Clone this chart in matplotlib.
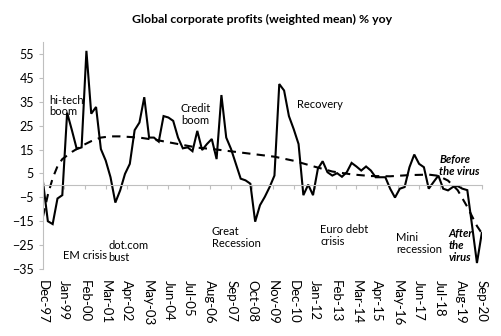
import matplotlib.pyplot as plt

plt.rcParams['font.family'] = ['Lato', 'DejaVu Sans']

# Quarterly profit growth, Dec-97 .. Sep-20 (% yoy)
profits = [
    1.4, -15.0, -16.2, -5.5, -4.1, 30.4, 23.0, 15.2, 15.9, 56.3,
    30.0, 32.8, 15.2, 10.4, 3.4, -7.2, -2.1, 4.8, 9.0, 23.1,
    26.3, 36.9, 20.0, 20.0, 18.3, 29.0, 28.4, 27.0, 20.0, 15.5,
    15.9, 14.3, 22.8, 14.8, 17.3, 19.4, 11.0, 37.8, 20.0, 15.2,
    9.0, 2.8, 2.1, 0.7, -15.2, -8.3, -4.8, -0.7, 4.1, 42.4,
    39.7, 29.0, 23.5, 17.3, -4.1, 0.3, -4.1, 6.9, 10.1, 5.5,
    4.1, 5.1, 3.6, 5.5, 9.4, 7.9, 6.2, 7.9, 6.2, 3.4,
    3.4, 3.4, -1.4, -5.1, -1.4, -0.7, 7.6, 12.9, 9.0, 7.6,
    -1.4, 1.4, 4.1, -1.4, -2.1, -0.7, -0.3, -1.4, -2.0, -17.0,
    -32.5, -20.0,
]
months = [3 * q for q in range(len(profits))]

# Long-run trend (quarter index, value)
trend_q = [0, 1, 2, 3, 4, 6, 8, 10, 12, 14, 16, 20, 24, 28, 32, 36, 40, 44,
           48, 52, 56, 60, 64, 68, 72, 76, 80, 82, 84, 86, 88, 89, 90, 91]
trend_v = [-13.0, -4.0, 3.0, 8.0, 11.0, 14.0, 16.5, 18.5, 20.0, 20.5, 20.5,
           20.0, 18.8, 17.3, 15.8, 15.0, 14.0, 13.0, 12.0, 10.3, 8.0, 5.8,
           4.6, 3.9, 3.8, 4.3, 4.5, 4.0, 2.0, -2.0, -9.0, -13.0, -17.0, -20.0]
trend_m = [3 * q for q in trend_q]

tick_labels = ['Dec-97', 'Jan-99', 'Feb-00', 'Mar-01', 'Apr-02', 'May-03',
               'Jun-04', 'Jul-05', 'Aug-06', 'Sep-07', 'Oct-08', 'Nov-09',
               'Dec-10', 'Jan-12', 'Feb-13', 'Mar-14', 'Apr-15', 'May-16',
               'Jun-17', 'Jul-18', 'Aug-19', 'Sep-20']
tick_pos = [13 * i for i in range(len(tick_labels))]

grey = '#BFBFBF'

fig = plt.figure(figsize=(5.02, 3.36), dpi=100)
ax = fig.add_axes([0.0857, 0.1994, 0.874, 0.6756])

ax.plot(months, profits, color='black', lw=1.5, solid_joinstyle='miter')
ax.plot(trend_m, trend_v, color='black', lw=1.5, dashes=(4, 3))

ax.set_xlim(0, 273)
ax.set_ylim(-35, 60)
ax.set_yticks(range(-35, 60, 10))

for side in ['top', 'right']:
    ax.spines[side].set_visible(False)
ax.spines['left'].set_color(grey)
ax.spines['bottom'].set_color(grey)
ax.spines['bottom'].set_position(('data', 0))
ax.tick_params(axis='y', colors=grey, labelcolor='black', labelsize=9,
               length=3, width=0.8)
ax.set_xticks(tick_pos)
ax.tick_params(axis='x', colors=grey, length=3, width=0.8, labelbottom=False)

# Date labels sit below the plot, not on the zero line
sec = ax.secondary_xaxis('bottom')
sec.spines['bottom'].set_visible(False)
sec.set_xticks(tick_pos)
sec.set_xticklabels(tick_labels, rotation=-90)
sec.tick_params(length=0, labelsize=9.5, pad=8)

ax.set_title('Global corporate profits (weighted mean) % yoy',
             fontsize=8.8, fontweight='bold', pad=14)

notes = [
    (3.7, 33.2, 'hi-tech\nboom'),
    (85.7, 29.7, 'Credit\nboom'),
    (158.2, 33.9, 'Recovery'),
    (12.3, -29.3, 'EM crisis'),
    (40.6, -27.7, 'dot.com\nbust'),
    (105.0, -21.9, 'Great\nRecession'),
    (172.6, -20.9, 'Euro debt\ncrisis'),
    (219.5, -24.2, 'Mini\nrecession'),
]
for x, y, s in notes:
    ax.text(x, y, s, fontsize=8, ha='left', va='center', linespacing=1.1)

ax.text(246.6, 8.4, 'Before\nthe virus', fontsize=8, fontweight='bold',
        style='italic', ha='left', va='center', linespacing=1.1)
ax.text(252.2, -25.0, 'After\nthe\nvirus', fontsize=8, fontweight='bold',
        style='italic', ha='left', va='center', linespacing=1.1)

fig.savefig('out.png', dpi=100)
